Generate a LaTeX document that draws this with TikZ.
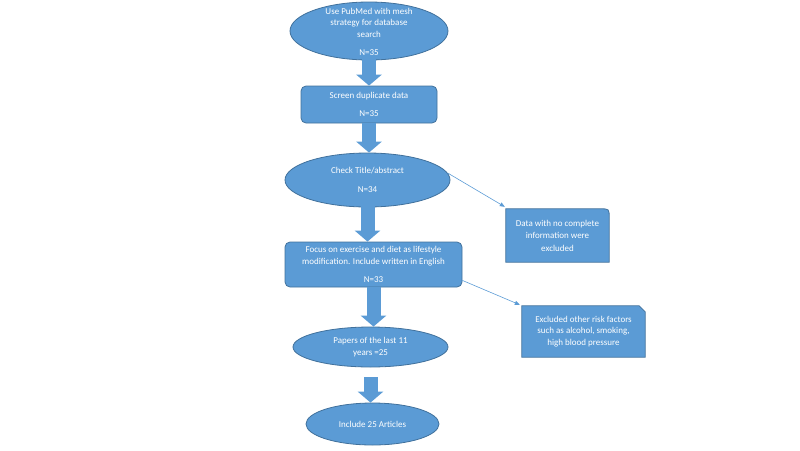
\documentclass[tikz,border=0pt]{standalone}
\usepackage{fontspec}
\setmainfont{Carlito}
\usetikzlibrary{shapes.geometric,arrows.meta}
\definecolor{fillb}{HTML}{5B9BD5}
\definecolor{lineb}{HTML}{41719C}
\begin{document}
\begin{tikzpicture}[x=1pt,y=-1pt,
 ell/.style={ellipse,draw=lineb,fill=fillb,line width=0.8pt,inner sep=0pt},
 box/.style={rectangle,rounded corners=5pt,draw=lineb,fill=fillb,line width=0.8pt,inner sep=0pt},
 sidebox/.style={rectangle,draw=none,inner sep=0pt},
 sidefill/.style={draw=lineb,fill=fillb,line width=0.8pt},
 txt/.style={text=white,align=center,font=\fontsize{9}{11.5}\selectfont,inner sep=0pt},
 blk/.style={draw=fillb,line width=14pt,-{Triangle[width=25pt,length=11pt]}},
 thin/.style={draw=fillb,line width=0.6pt,-{Triangle[width=4pt,length=5pt]}}
]
\useasboundingbox (0,0) rectangle (800,450);

\node[ell,minimum width=158pt,minimum height=58pt] (e1) at (369,31) {};
\node[txt] at ([yshift=-1pt]e1) {Use PubMed with mesh\\strategy for database\\search\\[7pt]N=35};

\node[box,minimum width=136pt,minimum height=37pt] (b2) at (369,104.5) {};
\node[txt] at (b2) {Screen duplicate data\\[7pt]N=35};

\node[ell,minimum width=165pt,minimum height=54pt] (e3) at (367.5,180) {};
\node[txt] at (e3) {Check Title/abstract\\[7pt]N=34};

\node[box,minimum width=177pt,minimum height=45pt] (b4) at (373.5,264.5) {};
\node[txt] at (b4) {Focus on exercise and diet as lifestyle\\modification. Include written in English\\[7pt]N=33};

\node[ell,minimum width=155pt,minimum height=40pt] (e5) at (370.5,347) {};
\node[txt] at (e5) {Papers of the last 11\\years =25};

\node[ell,minimum width=133pt,minimum height=42pt] (e6) at (372.5,424) {};
\node[txt] at (e6) {Include 25 Articles};

% side box A (one rounded corner)
\node[sidebox,minimum width=103pt,minimum height=53pt] (bA) at (557.5,235.5) {};
\draw[sidefill] (bA.south west) -- (bA.north west) -- ([xshift=-9pt]bA.north east)
  .. controls (bA.north east) .. ([yshift=-9pt]bA.north east) -- (bA.south east) -- cycle;
\node[txt,font=\fontsize{9}{12.5}\selectfont] at (bA) {Data with no complete\\information were\\excluded};

% side box B (snipped corner)
\node[sidebox,minimum width=123pt,minimum height=51pt] (bB) at (583.5,331.5) {};
\draw[sidefill] (bB.south west) -- (bB.north west) -- ([xshift=-6pt]bB.north east)
  -- ([yshift=-6pt]bB.north east) -- (bB.south east) -- cycle;
\node[txt] at (bB) {Excluded other risk factors\\such as alcohol, smoking,\\high blood pressure};

% block arrows
\draw[blk] ([yshift=1pt]e1.south) -- (e1.south |- b2.north);
\draw[blk] (b2.south) -- (b2.south |- e3.north);
\draw[blk] ([yshift=1pt]e3.south) -- (e3.south |- b4.north);
\draw[blk] (b4.south) -- (b4.south |- e5.north);
\draw[blk] ([yshift=-10pt]e5.south) -- (e5.south |- e6.north);

% thin arrows
\draw[thin] (e3.5) -- ([xshift=-1pt,yshift=2pt]bA.north west);
\draw[thin] ([yshift=7pt]b4.south east) -- ([xshift=-2pt,yshift=1pt]bB.north west);
\end{tikzpicture}
\end{document}
